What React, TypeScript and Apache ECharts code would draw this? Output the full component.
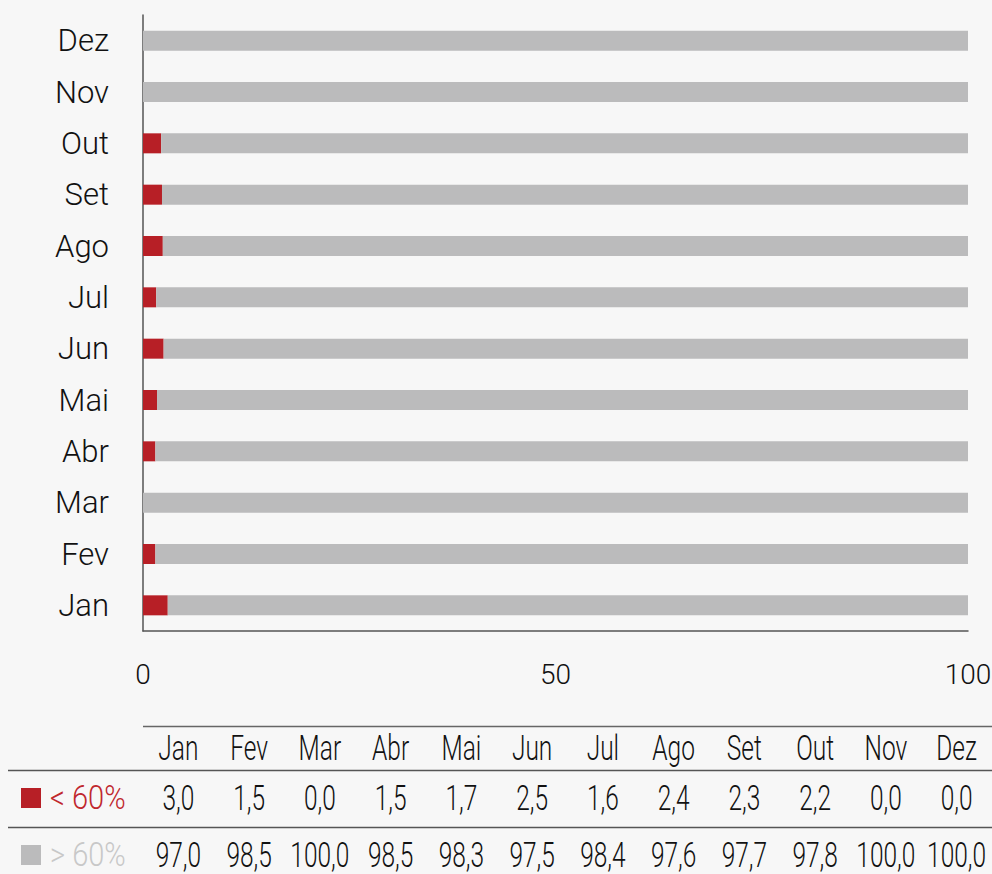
import React, { useEffect, useRef } from "react";
import * as echarts from "echarts";

const months = ["Jan", "Fev", "Mar", "Abr", "Mai", "Jun", "Jul", "Ago", "Set", "Out", "Nov", "Dez"];
const below60 = [3.0, 1.5, 0.0, 1.5, 1.7, 2.5, 1.6, 2.4, 2.3, 2.2, 0.0, 0.0];
const above60 = [97.0, 98.5, 100.0, 98.5, 98.3, 97.5, 98.4, 97.6, 97.7, 97.8, 100.0, 100.0];
const seriesNames = ["< 60%", "> 60%"];
const xTicks = [0, 50, 100];

const RED = "#b71f26";
const GRAY = "#bbbbbc";
const FONT = 'Roboto, "Noto Sans", sans-serif';
const FS = 35;
const SX = 0.7;

const fmt = (v: number) => v.toFixed(1).replace(".", ",");

export default function App() {
  const ref = useRef<HTMLDivElement>(null);
  useEffect(() => {
    document.body.style.margin = "0";
    document.body.style.background = "#f7f7f7";
    const chart = echarts.init(ref.current!, null, { renderer: "svg" });

    const tableLeft = 143;
    const tableRight = 992;
    const colW = (tableRight - tableLeft) / months.length;
    const font = `300 ${FS}px ${FONT}`;
    const graphic: any[] = [];
    graphic.push({ type: "line", shape: { x1: tableLeft, y1: 726.5, x2: tableRight, y2: 726.5 }, style: { stroke: "#666", lineWidth: 1.5 } });
    graphic.push({ type: "line", shape: { x1: 8, y1: 770.5, x2: tableRight, y2: 770.5 }, style: { stroke: "#555", lineWidth: 1.5 } });
    graphic.push({ type: "line", shape: { x1: 8, y1: 827.5, x2: tableRight, y2: 827.5 }, style: { stroke: "#555", lineWidth: 1.5 } });
    months.forEach((m, i) => {
      const cx = tableLeft + colW * (i + 0.5);
      const common = { scaleX: SX, x: cx };
      graphic.push({ type: "text", ...common, y: 748, style: { text: m, font, fill: "#111", align: "center", verticalAlign: "middle" } });
      graphic.push({ type: "text", ...common, y: 798, style: { text: fmt(below60[i]), font, fill: "#111", align: "center", verticalAlign: "middle" } });
      graphic.push({ type: "text", ...common, y: 855, style: { text: fmt(above60[i]), font, fill: "#111", align: "center", verticalAlign: "middle" } });
    });
    const legendFont = `300 33px ${FONT}`;
    graphic.push({ type: "rect", shape: { x: 21, y: 788, width: 20, height: 20 }, style: { fill: RED } });
    graphic.push({ type: "text", x: 50, y: 798, scaleX: 0.88, style: { text: seriesNames[0], font: legendFont, fill: "#c0272d", align: "left", verticalAlign: "middle" } });
    graphic.push({ type: "rect", shape: { x: 21, y: 845, width: 20, height: 20 }, style: { fill: GRAY } });
    graphic.push({ type: "text", x: 50, y: 855, scaleX: 0.88, style: { text: seriesNames[1], font: legendFont, fill: "#c8c8c8", align: "left", verticalAlign: "middle" } });

    chart.setOption({
      animation: false,
      backgroundColor: "#f7f7f7",
      grid: { left: 143, top: 15, width: 825, height: 616, containLabel: false, outerBoundsMode: "none" },
      xAxis: {
        type: "value",
        min: xTicks[0],
        max: xTicks[xTicks.length - 1],
        interval: 50,
        axisLine: { show: true, lineStyle: { color: "#555", width: 1.5 } },
        axisTick: { show: false },
        splitLine: { show: false },
        axisLabel: { margin: 29, fontSize: 28, fontWeight: 300, fontFamily: FONT, color: "#111", hideOverlap: false },
      },
      yAxis: {
        type: "category",
        data: months,
        axisLine: { show: true, lineStyle: { color: "#555", width: 1.5 } },
        axisTick: { show: false },
        axisLabel: { margin: 34, fontSize: 31, fontWeight: 300, fontFamily: FONT, color: "#111" },
      },
      series: [
        { name: seriesNames[0], type: "bar", stack: "a", data: below60, barWidth: 20, itemStyle: { color: RED } },
        { name: seriesNames[1], type: "bar", stack: "a", data: above60, barWidth: 20, itemStyle: { color: GRAY } },
      ],
      graphic,
    });
    return () => chart.dispose();
  }, []);
  return <div ref={ref} style={{ width: 992, height: 874 }} />;
}
